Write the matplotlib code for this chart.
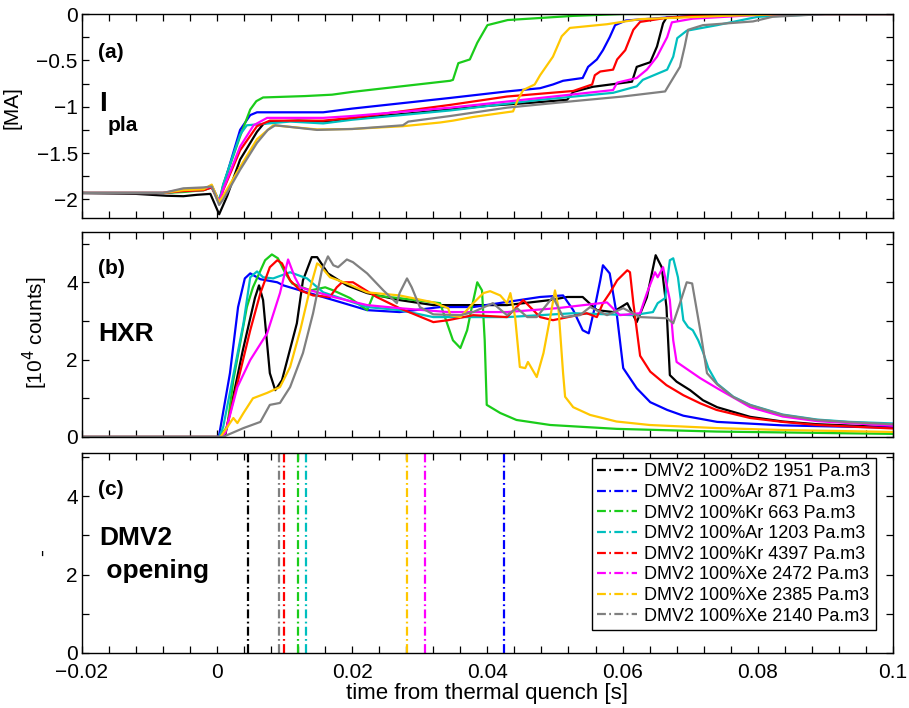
import matplotlib
matplotlib.use("Agg")
import matplotlib.pyplot as plt
from matplotlib.ticker import MultipleLocator, FuncFormatter

plt.rcParams['font.family'] = ['Liberation Sans', 'DejaVu Sans']

# ---------------- data ----------------
names = ['DMV2 100%D2 1951 Pa.m3', 'DMV2 100%Ar 871 Pa.m3', 'DMV2 100%Kr 663 Pa.m3',
         'DMV2 100%Ar 1203 Pa.m3', 'DMV2 100%Kr 4397 Pa.m3', 'DMV2 100%Xe 2472 Pa.m3',
         'DMV2 100%Xe 2385 Pa.m3', 'DMV2 100%Xe 2140 Pa.m3']
colors = ['k', (0, 0, 1), (0.1, 0.8, 0.1), (0, 0.75, 0.75), (1, 0, 0), (1, 0, 1),
          (1, 0.78, 0), (0.5, 0.5, 0.5)]

# DMV2 opening times [s]
t_open = [0.00463, 0.04247, 0.01199, 0.01312, 0.00987, 0.03083, 0.02807, 0.00922]

# (a) plasma current [MA] : (time, value)
ip_black = [(-0.02, -1.93), (-0.012, -1.94), (-0.0075, -1.96), (-0.005, -1.965), (-0.003, -1.95),
            (-0.001, -1.94), (0.0003, -2.16), (0.0015, -1.96), (0.0034, -1.57), (0.0059, -1.27),
            (0.0068, -1.19), (0.0078, -1.16), (0.012, -1.15), (0.017, -1.16), (0.02, -1.13),
            (0.0345, -1.03), (0.04, -0.99), (0.046, -0.96), (0.0518, -0.925), (0.0527, -0.84),
            (0.0556, -0.785), (0.0614, -0.73), (0.0621, -0.57), (0.0641, -0.52), (0.0651, -0.35),
            (0.066, -0.1), (0.0665, -0.04), (0.075, -0.01), (0.085, 0.0), (0.1, 0.0)]
ip_blue = [(-0.02, -1.93), (-0.008, -1.93), (-0.005, -1.91), (-0.002, -1.89), (-0.0008, -1.85),
           (0.0003, -2.02), (0.0009, -1.86), (0.0034, -1.25), (0.0049, -1.09), (0.0059, -1.06),
           (0.0157, -1.06), (0.02, -1.02), (0.0345, -0.905), (0.0429, -0.835), (0.0478, -0.80),
           (0.0497, -0.76), (0.0512, -0.72), (0.0541, -0.69), (0.0549, -0.57), (0.0562, -0.49),
           (0.0571, -0.39), (0.0581, -0.25), (0.0589, -0.12), (0.0605, -0.07), (0.07, -0.02),
           (0.08, 0.0), (0.1, 0.0)]
ip_green = [(-0.02, -1.93), (-0.008, -1.93), (-0.005, -1.92), (-0.002, -1.90), (-0.0008, -1.87),
            (0.0003, -2.03), (0.0009, -1.84), (0.0034, -1.32), (0.0049, -1.03), (0.0058, -0.94),
            (0.0068, -0.90), (0.013, -0.885), (0.017, -0.87), (0.02, -0.84), (0.0345, -0.72),
            (0.0349, -0.71), (0.0357, -0.53), (0.0374, -0.49), (0.0385, -0.31), (0.040, -0.12),
            (0.043, -0.065), (0.0527, -0.02), (0.06, 0.0), (0.1, 0.0)]
ip_cyan = [(-0.02, -1.93), (-0.008, -1.93), (-0.005, -1.91), (-0.002, -1.90), (-0.0008, -1.86),
           (0.0003, -2.02), (0.0009, -1.84), (0.0034, -1.30), (0.0044, -1.20), (0.0108, -1.16),
           (0.0157, -1.18), (0.02, -1.14), (0.0345, -1.04), (0.0478, -0.925), (0.0586, -0.85),
           (0.0621, -0.78), (0.063, -0.71), (0.0666, -0.60), (0.0675, -0.46), (0.0681, -0.26),
           (0.0695, -0.18), (0.074, -0.12), (0.080, -0.03), (0.09, 0.0), (0.1, 0.0)]
ip_red = [(-0.02, -1.93), (-0.008, -1.93), (-0.005, -1.91), (-0.002, -1.90), (-0.0008, -1.87),
          (0.0003, -2.04), (0.0009, -1.90), (0.0034, -1.47), (0.0059, -1.21), (0.0078, -1.15),
          (0.0157, -1.15), (0.02, -1.12), (0.0345, -0.98), (0.0429, -0.89), (0.0527, -0.83),
          (0.0555, -0.76), (0.0559, -0.66), (0.0567, -0.62), (0.0586, -0.60), (0.0592, -0.49),
          (0.0604, -0.39), (0.0616, -0.17), (0.0626, -0.085), (0.0666, -0.04), (0.075, 0.0),
          (0.1, 0.0)]
ip_magenta = [(-0.02, -1.93), (-0.008, -1.93), (-0.005, -1.89), (-0.002, -1.88), (-0.0008, -1.86),
              (0.0003, -2.03), (0.0009, -1.89), (0.0034, -1.43), (0.0054, -1.20), (0.0074, -1.12),
              (0.0157, -1.12), (0.02, -1.10), (0.0345, -1.01), (0.0586, -0.82), (0.0592, -0.74),
              (0.0621, -0.69), (0.0636, -0.60), (0.0651, -0.46), (0.0666, -0.25), (0.0673, -0.09),
              (0.0704, -0.05), (0.08, -0.01), (0.09, 0.0), (0.1, 0.0)]
ip_yellow = [(-0.02, -1.93), (-0.008, -1.93), (-0.005, -1.90), (-0.002, -1.89), (-0.0008, -1.84),
             (0.0003, -2.03), (0.0009, -1.96), (0.0034, -1.65), (0.0059, -1.35), (0.0083, -1.20),
             (0.0148, -1.245), (0.02, -1.24), (0.0275, -1.21), (0.033, -1.17), (0.0349, -1.15),
             (0.0379, -1.11), (0.0438, -1.05), (0.0445, -0.925), (0.0453, -0.82), (0.047, -0.76),
             (0.0478, -0.66), (0.0497, -0.46), (0.051, -0.24), (0.0522, -0.15), (0.0577, -0.11),
             (0.0626, -0.055), (0.075, -0.02), (0.085, 0.0), (0.1, 0.0)]
ip_gray = [(-0.02, -1.93), (-0.008, -1.93), (-0.005, -1.88), (-0.002, -1.87), (-0.0008, -1.86),
           (0.0003, -2.06), (0.0009, -2.0), (0.0034, -1.68), (0.0059, -1.39), (0.0075, -1.25),
           (0.0086, -1.20), (0.0148, -1.25), (0.02, -1.24), (0.0275, -1.2), (0.0283, -1.16),
           (0.0345, -1.10), (0.0429, -1.01), (0.0527, -0.94), (0.060, -0.89), (0.0663, -0.835),
           (0.067, -0.75), (0.0685, -0.57), (0.0692, -0.35), (0.0697, -0.17), (0.0719, -0.12),
           (0.0793, -0.08), (0.0822, -0.03), (0.09, 0.0), (0.1, 0.0)]

# (b) HXR [1e4 counts] : (time, value)
hxr_black = [(-0.02, 0), (0.0007, 0), (0.0012, 0.05), (0.0038, 2.24), (0.0056, 3.6), (0.0062, 3.92),
             (0.0068, 3.54), (0.0078, 1.65), (0.0086, 1.21), (0.0096, 1.47), (0.0118, 2.94),
             (0.0127, 4.05), (0.014, 4.65), (0.0148, 4.65), (0.0164, 4.23), (0.0192, 3.92),
             (0.0222, 3.72), (0.027, 3.54), (0.032, 3.41), (0.0429, 3.41), (0.0493, 3.54),
             (0.0518, 3.62), (0.0541, 3.62), (0.0562, 3.28), (0.0586, 3.23), (0.0607, 3.46),
             (0.0621, 2.97), (0.0636, 3.61), (0.0649, 4.7), (0.0658, 4.39), (0.0665, 3.36),
             (0.067, 1.6), (0.068, 1.43), (0.07, 1.21), (0.0719, 0.95), (0.074, 0.77),
             (0.0789, 0.52), (0.0837, 0.40), (0.0888, 0.33), (0.1, 0.25)]
hxr_blue = [(-0.02, 0), (0.0, 0), (0.0003, 0.05), (0.0019, 1.65), (0.0031, 3.36), (0.0041, 4.1),
            (0.0049, 4.23), (0.0064, 4.08), (0.0089, 4.0), (0.0098, 3.92), (0.0123, 3.79),
            (0.0172, 3.54), (0.0222, 3.28), (0.027, 3.23), (0.033, 3.36), (0.0379, 3.36),
            (0.0478, 3.62), (0.0512, 3.66), (0.0527, 3.28), (0.0541, 2.76), (0.055, 2.68),
            (0.0559, 3.36), (0.0567, 4.05), (0.0571, 4.44), (0.0581, 4.23), (0.0592, 3.1),
            (0.0601, 1.78), (0.0621, 1.26), (0.0641, 0.9), (0.0666, 0.70), (0.069, 0.55),
            (0.074, 0.39), (0.0837, 0.30), (0.1, 0.24)]
hxr_green = [(-0.02, 0), (0.0003, 0), (0.0015, 0.26), (0.0024, 1.47), (0.0044, 3.36), (0.0053, 3.87),
             (0.0071, 4.57), (0.0081, 4.72), (0.009, 4.62), (0.0101, 4.23), (0.0111, 3.97),
             (0.0138, 3.79), (0.016, 3.87), (0.0172, 3.79), (0.0197, 3.59), (0.0222, 3.28),
             (0.0231, 3.66), (0.027, 3.59), (0.032, 3.48), (0.033, 3.46), (0.0349, 2.5),
             (0.036, 2.3), (0.037, 2.76), (0.0377, 3.36), (0.0385, 4.0), (0.0392, 3.79),
             (0.0396, 2.5), (0.0399, 0.83), (0.0419, 0.62), (0.0443, 0.44), (0.0493, 0.31),
             (0.0591, 0.21), (0.0739, 0.14), (0.1, 0.08)]
hxr_cyan = [(-0.02, 0), (0.0003, 0), (0.0009, 0.26), (0.0039, 2.94), (0.0049, 4.13), (0.0059, 4.28),
            (0.0068, 4.13), (0.0083, 4.1), (0.0108, 4.26), (0.0133, 4.1), (0.0157, 3.74),
            (0.0222, 3.36), (0.027, 3.28), (0.032, 3.1), (0.0429, 3.1), (0.0527, 3.2),
            (0.0616, 3.15), (0.0645, 3.23), (0.0652, 3.46), (0.0663, 3.59), (0.067, 4.57),
            (0.0675, 4.62), (0.0682, 4.13), (0.069, 3.02), (0.0697, 2.84), (0.0704, 2.76),
            (0.0712, 2.5), (0.0719, 2.2), (0.0727, 1.78), (0.074, 1.38), (0.0764, 1.04),
            (0.0789, 0.83), (0.0837, 0.58), (0.0888, 0.45), (0.0937, 0.39), (0.1, 0.35)]
hxr_red = [(-0.02, 0), (0.0005, 0), (0.0012, 0.1), (0.003, 1.39), (0.0049, 2.76), (0.0064, 3.72),
           (0.0078, 4.39), (0.0089, 4.57), (0.0096, 4.49), (0.0108, 4.05), (0.0123, 3.79),
           (0.0142, 3.66), (0.0167, 3.62), (0.0177, 3.87), (0.0185, 4.0), (0.0201, 4.0),
           (0.0236, 3.62), (0.027, 3.33), (0.032, 2.97), (0.0342, 3.02), (0.0379, 3.15),
           (0.0429, 3.1), (0.0453, 3.54), (0.0478, 3.1), (0.0497, 3.02), (0.0547, 3.2),
           (0.0562, 3.1), (0.0571, 3.46), (0.0581, 3.72), (0.0592, 4.05), (0.0607, 4.31),
           (0.0611, 4.26), (0.0616, 3.46), (0.0626, 2.1), (0.0641, 1.69), (0.0665, 1.34),
           (0.069, 1.08), (0.0715, 0.87), (0.0739, 0.70), (0.0789, 0.49), (0.0837, 0.39),
           (0.0888, 0.31), (0.1, 0.22)]
hxr_magenta = [(-0.02, 0), (0.0005, 0), (0.0012, 0.1), (0.003, 1.29), (0.0049, 1.99), (0.0074, 2.68),
               (0.0093, 3.72), (0.0105, 4.59), (0.0115, 4.13), (0.0123, 3.87), (0.0172, 3.62),
               (0.0222, 3.41), (0.027, 3.33), (0.0342, 3.23), (0.0429, 3.23), (0.0503, 3.33),
               (0.0577, 3.48), (0.0596, 3.15), (0.0626, 3.2), (0.0636, 3.72), (0.0648, 4.26),
               (0.0652, 4.13), (0.066, 4.39), (0.067, 3.54), (0.0675, 2.5), (0.068, 1.94),
               (0.0715, 1.52), (0.074, 1.26), (0.0789, 0.77), (0.0837, 0.53), (0.0888, 0.41),
               (0.1, 0.29)]
hxr_yellow = [(-0.02, 0), (0.0005, 0), (0.0012, 0.18), (0.0024, 0.49), (0.003, 0.36), (0.0039, 0.62),
              (0.0053, 1.0), (0.0074, 1.14), (0.0093, 1.29), (0.0108, 1.81), (0.0123, 2.76),
              (0.0138, 3.87), (0.0148, 4.49), (0.0152, 4.44), (0.0167, 4.13), (0.0192, 3.97),
              (0.0222, 3.74), (0.027, 3.66), (0.032, 3.48), (0.0342, 3.33), (0.0345, 3.15),
              (0.036, 3.1), (0.0379, 3.46), (0.0394, 3.72), (0.0404, 3.77), (0.0419, 3.66),
              (0.0429, 3.46), (0.0434, 3.72), (0.0441, 3.1), (0.0448, 1.81), (0.0456, 1.78),
              (0.046, 1.94), (0.0473, 1.55), (0.0483, 2.17), (0.0493, 3.1), (0.05, 3.79),
              (0.0505, 3.36), (0.0512, 1.65), (0.0515, 1.04), (0.0527, 0.77), (0.0552, 0.57),
              (0.0591, 0.40), (0.064, 0.31), (0.0739, 0.23), (0.0837, 0.18), (0.1, 0.13)]
hxr_gray = [(-0.02, 0), (0.0008, 0), (0.0015, 0.05), (0.0039, 0.23), (0.0064, 0.39), (0.0078, 0.83),
            (0.0093, 0.88), (0.0108, 1.29), (0.0127, 2.17), (0.0142, 3.2), (0.0155, 4.31),
            (0.0164, 4.67), (0.0172, 4.44), (0.0179, 4.39), (0.0192, 4.59), (0.0201, 4.52),
            (0.0222, 4.23), (0.0246, 3.79), (0.0266, 3.46), (0.027, 3.72), (0.0281, 4.1),
            (0.0288, 3.87), (0.03, 3.36), (0.032, 3.17), (0.036, 3.15), (0.0379, 3.23),
            (0.0408, 3.46), (0.0429, 3.15), (0.0444, 3.33), (0.0459, 3.1), (0.0473, 3.1),
            (0.0497, 3.62), (0.0512, 3.1), (0.0537, 3.15), (0.0552, 3.36), (0.0577, 3.15),
            (0.0601, 3.33), (0.0626, 3.1), (0.0666, 3.07), (0.0675, 2.94), (0.0685, 3.46),
            (0.0695, 4.0), (0.0703, 3.97), (0.0715, 2.76), (0.0725, 1.65), (0.074, 1.36),
            (0.0764, 1.03), (0.0789, 0.82), (0.0837, 0.57), (0.0888, 0.44), (0.0937, 0.38),
            (0.1, 0.33)]

ip_all = [ip_black, ip_blue, ip_green, ip_cyan, ip_red, ip_magenta, ip_yellow, ip_gray]
hxr_all = [hxr_black, hxr_blue, hxr_green, hxr_cyan, hxr_red, hxr_magenta, hxr_yellow, hxr_gray]


def tick_fmt(v, pos):
    if abs(v) < 1e-12:
        return '0'
    return ('%g' % round(v, 6)).replace('-', '\u2212')


def style(ax):
    ax.set_xlim(-0.02, 0.1)
    ax.xaxis.set_major_locator(MultipleLocator(0.02))
    ax.xaxis.set_minor_locator(MultipleLocator(0.004))
    ax.xaxis.set_major_formatter(FuncFormatter(tick_fmt))
    ax.yaxis.set_major_formatter(FuncFormatter(tick_fmt))
    ax.tick_params(which='both', direction='in', top=True, right=True,
                   length=5, width=0.9, labelsize=15, pad=3)
    ax.tick_params(axis='x', pad=7)
    for s in ax.spines.values():
        s.set_linewidth(1.0)


fig = plt.figure(figsize=(9.09, 7.08), dpi=100)
ax_a = fig.add_axes([0.0902, 0.6921, 0.892, 0.2881])
ax_b = fig.add_axes([0.0902, 0.3828, 0.892, 0.2895])
ax_c = fig.add_axes([0.0902, 0.0777, 0.892, 0.2825])

# ---- (a) plasma current
for pts, c in zip(ip_all, colors):
    ax_a.plot([p[0] for p in pts], [p[1] for p in pts], color=c, lw=1.6)
style(ax_a)
ax_a.set_ylim(-2.2, 0)
ax_a.yaxis.set_major_locator(MultipleLocator(0.5))
ax_a.yaxis.set_minor_locator(MultipleLocator(0.25))
ax_a.tick_params(labelbottom=False)
ax_a.set_ylabel('[MA]', fontsize=15)
ax_a.yaxis.set_label_coords(-0.074, 0.54)
ax_a.text(0.02, 0.81, '(a)', transform=ax_a.transAxes, fontsize=15, fontweight='bold', va='center')
ax_a.text(0.021, 0.56, 'I', transform=ax_a.transAxes, fontsize=20, fontweight='bold', va='center')
ax_a.text(0.031, 0.455, 'pla', transform=ax_a.transAxes, fontsize=15, fontweight='bold', va='center')

# ---- (b) HXR
for pts, c in zip(hxr_all, colors):
    ax_b.plot([p[0] for p in pts], [p[1] for p in pts], color=c, lw=1.6)
style(ax_b)
ax_b.set_ylim(0, 5.3)
ax_b.yaxis.set_major_locator(MultipleLocator(2))
ax_b.yaxis.set_minor_locator(MultipleLocator(1))
ax_b.tick_params(labelbottom=False)
ax_b.set_ylabel('[10$^4$ counts]', fontsize=15)
ax_b.yaxis.set_label_coords(-0.039, 0.51)
ax_b.text(0.02, 0.824, '(b)', transform=ax_b.transAxes, fontsize=15, fontweight='bold', va='center')
ax_b.text(0.02, 0.50, 'HXR', transform=ax_b.transAxes, fontsize=19, fontweight='bold', va='center')

# ---- (c) DMV2 opening
for t, c, n in zip(t_open, colors, names):
    ax_c.axvline(t, color=c, lw=1.6, linestyle=(0, (4, 1.5, 0.8, 1.5)), label=n)
style(ax_c)
ax_c.set_ylim(0, 5.1)
ax_c.yaxis.set_major_locator(MultipleLocator(2))
ax_c.yaxis.set_minor_locator(MultipleLocator(1))
ax_c.set_ylabel('-', fontsize=15)
ax_c.yaxis.set_label_coords(-0.037, 0.5)
ax_c.set_xlabel('time from thermal quench [s]', fontsize=16, labelpad=1)
ax_c.text(0.02, 0.815, '(c)', transform=ax_c.transAxes, fontsize=15, fontweight='bold', va='center')
ax_c.text(0.021, 0.575, 'DMV2', transform=ax_c.transAxes, fontsize=19, fontweight='bold', va='center')
ax_c.text(0.021, 0.41, ' opening', transform=ax_c.transAxes, fontsize=19, fontweight='bold', va='center')
leg = ax_c.legend(loc='upper right', bbox_to_anchor=(0.979, 0.975), borderaxespad=0,
                  fontsize=13, frameon=True, fancybox=False, framealpha=1,
                  handlelength=2.2, handletextpad=0.4, labelspacing=0.2,
                  borderpad=0.3)
leg.get_frame().set_edgecolor('k')
leg.get_frame().set_linewidth(1.0)

fig.savefig('out.png', dpi=100)
